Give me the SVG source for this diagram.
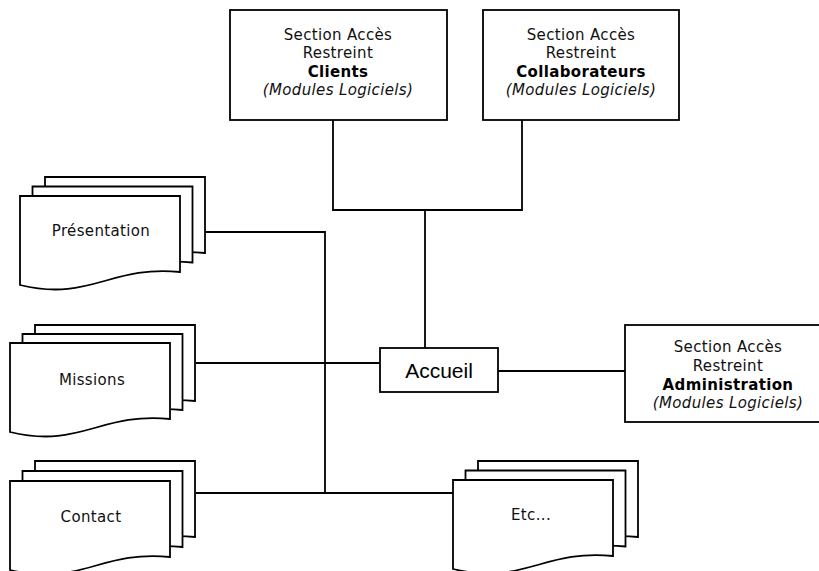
<svg xmlns="http://www.w3.org/2000/svg" xmlns:xlink="http://www.w3.org/1999/xlink" width="819" height="571" viewBox="0 0 819 571">
<style>
.shape{fill:#fff;stroke:#000;stroke-width:1.8}
.conn{fill:none;stroke:#000;stroke-width:1.8}
.t{font-family:"DejaVu Sans",Verdana,sans-serif;font-size:15px;letter-spacing:0.35px;fill:#111;text-anchor:middle}
.b{font-weight:bold;fill:#000}
.i{font-style:italic}
.acc{font-family:"Liberation Sans",Arial,sans-serif;font-size:21px;fill:#000;text-anchor:middle}
</style>
<defs>
<path id="doc" d="M0,0 H160 V76 C90,69 70,106 0,89 Z"/>
</defs>
<rect width="819" height="571" fill="#fff"/>
<g id="connectors" class="conn">
<polyline points="333,120 333,210 522,210 522,120"/>
<line x1="425" y1="210" x2="425" y2="348"/>
<line x1="498" y1="371" x2="625" y2="371"/>
<line x1="196" y1="363" x2="380" y2="363"/>
<polyline points="206,232 325,232 325,493"/>
<line x1="196" y1="493" x2="453" y2="493"/>
</g>
<g id="clients">
<rect class="shape" x="230" y="10" width="217" height="110"/>
<text class="t" x="338" y="40">Section Accès</text>
<text class="t" x="338" y="58">Restreint</text>
<text class="t b" x="338" y="77">Clients</text>
<text class="t i" x="338" y="95">(Modules Logiciels)</text>
</g>
<g id="collaborateurs">
<rect class="shape" x="483" y="10" width="196" height="110"/>
<text class="t" x="581" y="40">Section Accès</text>
<text class="t" x="581" y="58">Restreint</text>
<text class="t b" x="581" y="77">Collaborateurs</text>
<text class="t i" x="581" y="95">(Modules Logiciels)</text>
</g>
<g id="administration">
<rect class="shape" x="625" y="325" width="206" height="97"/>
<text class="t" x="728" y="352">Section Accès</text>
<text class="t" x="728" y="371">Restreint</text>
<text class="t b" x="728" y="390">Administration</text>
<text class="t i" x="728" y="408">(Modules Logiciels)</text>
</g>
<g id="accueil">
<rect class="shape" x="380" y="348" width="118" height="44"/>
<text class="acc" x="439" y="378">Accueil</text>
</g>
<g id="presentation">
<use href="#doc" xlink:href="#doc" class="shape" x="45" y="177"/>
<use href="#doc" xlink:href="#doc" class="shape" x="32.5" y="186.5"/>
<use href="#doc" xlink:href="#doc" class="shape" x="20" y="196"/>
<text class="t" x="101" y="236">Présentation</text>
</g>
<g id="missions">
<use href="#doc" xlink:href="#doc" class="shape" x="35" y="325"/>
<use href="#doc" xlink:href="#doc" class="shape" x="22.5" y="334"/>
<use href="#doc" xlink:href="#doc" class="shape" x="10" y="343"/>
<text class="t" x="92" y="385">Missions</text>
</g>
<g id="contact">
<use href="#doc" xlink:href="#doc" class="shape" x="35" y="461"/>
<use href="#doc" xlink:href="#doc" class="shape" x="22.5" y="471"/>
<use href="#doc" xlink:href="#doc" class="shape" x="10" y="481"/>
<text class="t" x="91" y="522">Contact</text>
</g>
<g id="etc">
<use href="#doc" xlink:href="#doc" class="shape" x="478" y="461"/>
<use href="#doc" xlink:href="#doc" class="shape" x="465.5" y="470.5"/>
<use href="#doc" xlink:href="#doc" class="shape" x="453" y="480"/>
<text class="t" x="531" y="520">Etc...</text>
</g>
</svg>
